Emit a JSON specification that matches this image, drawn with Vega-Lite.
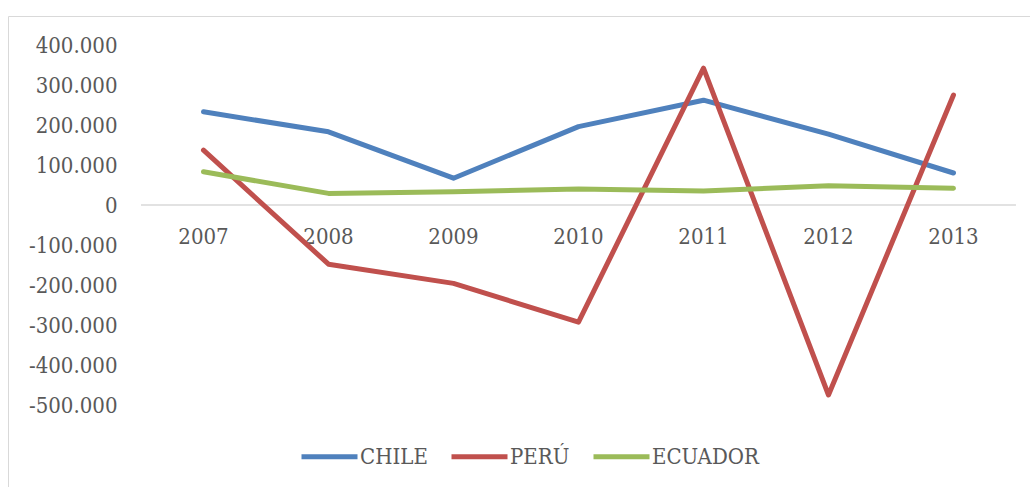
{
  "$schema": "https://vega.github.io/schema/vega-lite/v6.json",
  "width": 1030,
  "height": 480,
  "autosize": "none",
  "padding": {"left": 8, "top": 16, "right": 0, "bottom": 0},
  "background": "white",
  "config": {
    "view": {"stroke": "#d9d9d9", "strokeWidth": 1},
    "font": "'DejaVu Serif Condensed', 'Liberation Serif', serif"
  },
  "data": {
    "values": [
      {"year": "2007", "country": "CHILE", "value": 233000},
      {"year": "2008", "country": "CHILE", "value": 183000},
      {"year": "2009", "country": "CHILE", "value": 67000},
      {"year": "2010", "country": "CHILE", "value": 196000},
      {"year": "2011", "country": "CHILE", "value": 262000},
      {"year": "2012", "country": "CHILE", "value": 177000},
      {"year": "2013", "country": "CHILE", "value": 80000},
      {"year": "2007", "country": "PERÚ", "value": 137000},
      {"year": "2008", "country": "PERÚ", "value": -148000},
      {"year": "2009", "country": "PERÚ", "value": -196000},
      {"year": "2010", "country": "PERÚ", "value": -293000},
      {"year": "2011", "country": "PERÚ", "value": 342000},
      {"year": "2012", "country": "PERÚ", "value": -475000},
      {"year": "2013", "country": "PERÚ", "value": 275000},
      {"year": "2007", "country": "ECUADOR", "value": 83000},
      {"year": "2008", "country": "ECUADOR", "value": 29000},
      {"year": "2009", "country": "ECUADOR", "value": 33000},
      {"year": "2010", "country": "ECUADOR", "value": 40000},
      {"year": "2011", "country": "ECUADOR", "value": 35000},
      {"year": "2012", "country": "ECUADOR", "value": 48000},
      {"year": "2013", "country": "ECUADOR", "value": 42000}
    ]
  },
  "layer": [
    {
      "data": {"values": [{"from": "2007", "to": "2013", "v": 0}]},
      "mark": {"type": "rule", "color": "#d9d9d9", "strokeWidth": 1.5},
      "encoding": {
        "x": {"field": "from", "type": "ordinal", "bandPosition": 0},
        "x2": {"field": "to", "bandPosition": 1},
        "y": {"field": "v", "type": "quantitative"}
      }
    },
    {
      "mark": {"type": "line", "strokeWidth": 5, "strokeCap": "round", "strokeJoin": "round"},
      "encoding": {
        "x": {
          "field": "year",
          "type": "ordinal",
          "scale": {"type": "band", "paddingInner": 0, "paddingOuter": 0.62, "align": 0.858},
          "axis": {
            "orient": "bottom",
            "offset": -291,
            "bandPosition": 0.5,
            "labelAlign": "center",
            "domain": false,
            "ticks": false,
            "grid": false,
            "labelAngle": 0,
            "labelPadding": 31,
            "labelFontSize": 22,
            "labelColor": "#595959",
            "title": null
          }
        },
        "y": {
          "field": "value",
          "type": "quantitative",
          "scale": {"domain": [-727500, 472500], "nice": false, "zero": false},
          "axis": {
            "values": [-500000, -400000, -300000, -200000, -100000, 0, 100000, 200000, 300000, 400000],
            "offset": -109,
            "labelPadding": 0,
            "domain": false,
            "ticks": false,
            "grid": false,
            "labelFontSize": 22,
            "labelColor": "#595959",
            "labelExpr": "replace(replace(format(datum.value, ','), /,/g, '.'), /\u2212/g, '-')",
            "title": null
          }
        },
        "color": {
          "field": "country",
          "type": "nominal",
          "sort": ["CHILE", "PERÚ", "ECUADOR"],
          "scale": {"domain": ["CHILE", "PERÚ", "ECUADOR"], "range": ["#4F81BD", "#C0504D", "#9BBB59"]},
          "legend": {
            "orient": "none",
            "legendX": 291,
            "legendY": 410,
            "direction": "horizontal",
            "title": null,
            "symbolType": "stroke",
            "symbolSize": 3136,
            "symbolStrokeWidth": 5,
            "labelFontSize": 22,
            "labelColor": "#595959",
            "labelOffset": 0,
            "columnPadding": 13,
            "padding": 0
          }
        }
      }
    }
  ]
}
